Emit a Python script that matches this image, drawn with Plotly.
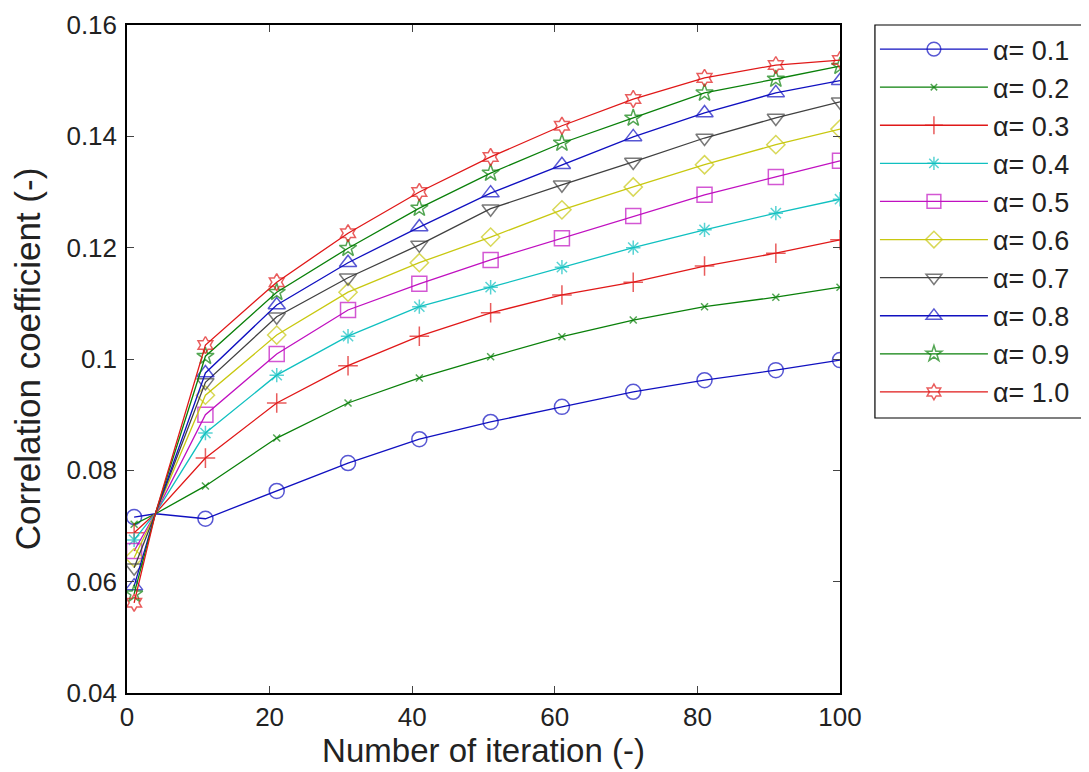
import plotly.graph_objects as go

iterations = [1, 4, 11, 21, 31, 41, 51, 61, 71, 81, 91, 100]
show_marker = [1, 0, 1, 1, 1, 1, 1, 1, 1, 1, 1, 1]

series_names = ["α= 0.1", "α= 0.2", "α= 0.3", "α= 0.4", "α= 0.5",
                "α= 0.6", "α= 0.7", "α= 0.8", "α= 0.9", "α= 1.0"]

a01 = [0.0716, 0.0722, 0.0713, 0.0763, 0.0813, 0.0856, 0.0887, 0.0914, 0.0941, 0.0962, 0.0980, 0.0998]
a02 = [0.0703, 0.0722, 0.0772, 0.0858, 0.0921, 0.0966, 0.1004, 0.1040, 0.1070, 0.1094, 0.1111, 0.1129]
a03 = [0.0688, 0.0723, 0.0822, 0.0921, 0.0988, 0.1041, 0.1083, 0.1115, 0.1138, 0.1167, 0.1190, 0.1214]
a04 = [0.0675, 0.0723, 0.0867, 0.0971, 0.1041, 0.1094, 0.1129, 0.1165, 0.1200, 0.1232, 0.1262, 0.1287]
a05 = [0.0655, 0.0723, 0.0900, 0.1009, 0.1088, 0.1135, 0.1178, 0.1217, 0.1257, 0.1295, 0.1327, 0.1356]
a06 = [0.0643, 0.0723, 0.0935, 0.1043, 0.1120, 0.1173, 0.1219, 0.1268, 0.1309, 0.1349, 0.1385, 0.1413]
a07 = [0.0625, 0.0723, 0.0958, 0.1076, 0.1146, 0.1205, 0.1270, 0.1313, 0.1354, 0.1397, 0.1433, 0.1462]
a08 = [0.0592, 0.0723, 0.0975, 0.1097, 0.1173, 0.1237, 0.1298, 0.1349, 0.1399, 0.1442, 0.1478, 0.1500]
a09 = [0.0578, 0.0723, 0.1005, 0.1120, 0.1199, 0.1271, 0.1334, 0.1388, 0.1433, 0.1478, 0.1503, 0.1526]
a10 = [0.0562, 0.0723, 0.1025, 0.1138, 0.1226, 0.1300, 0.1363, 0.1419, 0.1467, 0.1505, 0.1528, 0.1537]

y_tick_vals = [0.04, 0.06, 0.08, 0.1, 0.12, 0.14, 0.16]
y_tick_text = ["0.04", "0.06", "0.08", "0.1", "0.12", "0.14", "0.16"]
x_tick_vals = [0, 20, 40, 60, 80, 100]

all_series = [a01, a02, a03, a04, a05, a06, a07, a08, a09, a10]
colors = ["#1010c0", "#0a800a", "#e01818", "#10c0c0", "#c010c0",
          "#c8c810", "#404040", "#1010c0", "#0a800a", "#e01818"]
symbols = ["circle-open", "x-thin", "cross-thin", "asterisk-open", "square-open",
           "diamond-open", "triangle-down-open", "triangle-up-open", "star-open", "hexagram-open"]
sizes = [15, 7, 14, 12, 15, 14, 15, 15, 13, 13]

fig = go.Figure()
for i, (name, vals) in enumerate(zip(series_names, all_series)):
    fig.add_trace(go.Scatter(
        x=iterations, y=vals, name=name, mode="lines+markers",
        legendgroup=name,
        line=dict(color=colors[i], width=1.3),
        marker=dict(symbol=symbols[i], size=[sizes[i] * m for m in show_marker],
                    color=colors[i], line=dict(color=colors[i], width=1.5)),
    ))

# legend frame drawn as a paper-coordinate rectangle
fig.add_shape(type="rect", xref="paper", yref="paper",
              x0=1.049, x1=1.3436, y0=0.4117, y1=1.0,
              line=dict(color="black", width=1.2), fillcolor="rgba(0,0,0,0)", layer="below")

font_family = "Liberation Sans, Arial, sans-serif"
fig.update_layout(
    width=1089, height=772,
    margin=dict(l=119, r=257, t=17, b=87, autoexpand=False),
    paper_bgcolor="white", plot_bgcolor="white",
    font=dict(family=font_family, color="#222222", size=20),
    xaxis=dict(range=[0, 100], tickvals=x_tick_vals, ticks="inside", ticklen=7,
               showline=True, linecolor="black", linewidth=1.5, mirror="ticks",
               showgrid=False, zeroline=False, tickfont=dict(size=26), automargin=False,
               title=dict(text="Number of iteration (-)", font=dict(size=33), standoff=6)),
    yaxis=dict(range=[0.04, 0.16], tickvals=y_tick_vals, ticktext=y_tick_text,
               ticks="inside", ticklen=7, ticklabelstandoff=3, automargin=False,
               showline=True, linecolor="black", linewidth=1.5, mirror="ticks",
               showgrid=False, zeroline=False, tickfont=dict(size=26),
               title=dict(text="Correlation coefficient (-)", font=dict(size=35), standoff=16)),
    legend=dict(x=1.049, y=1.0, xanchor="left", yanchor="top",
                borderwidth=0, bgcolor="rgba(0,0,0,0)", maxheight=700,
                font=dict(size=27), itemwidth=108,
                traceorder="normal"),
)

fig.write_html("out.html")
